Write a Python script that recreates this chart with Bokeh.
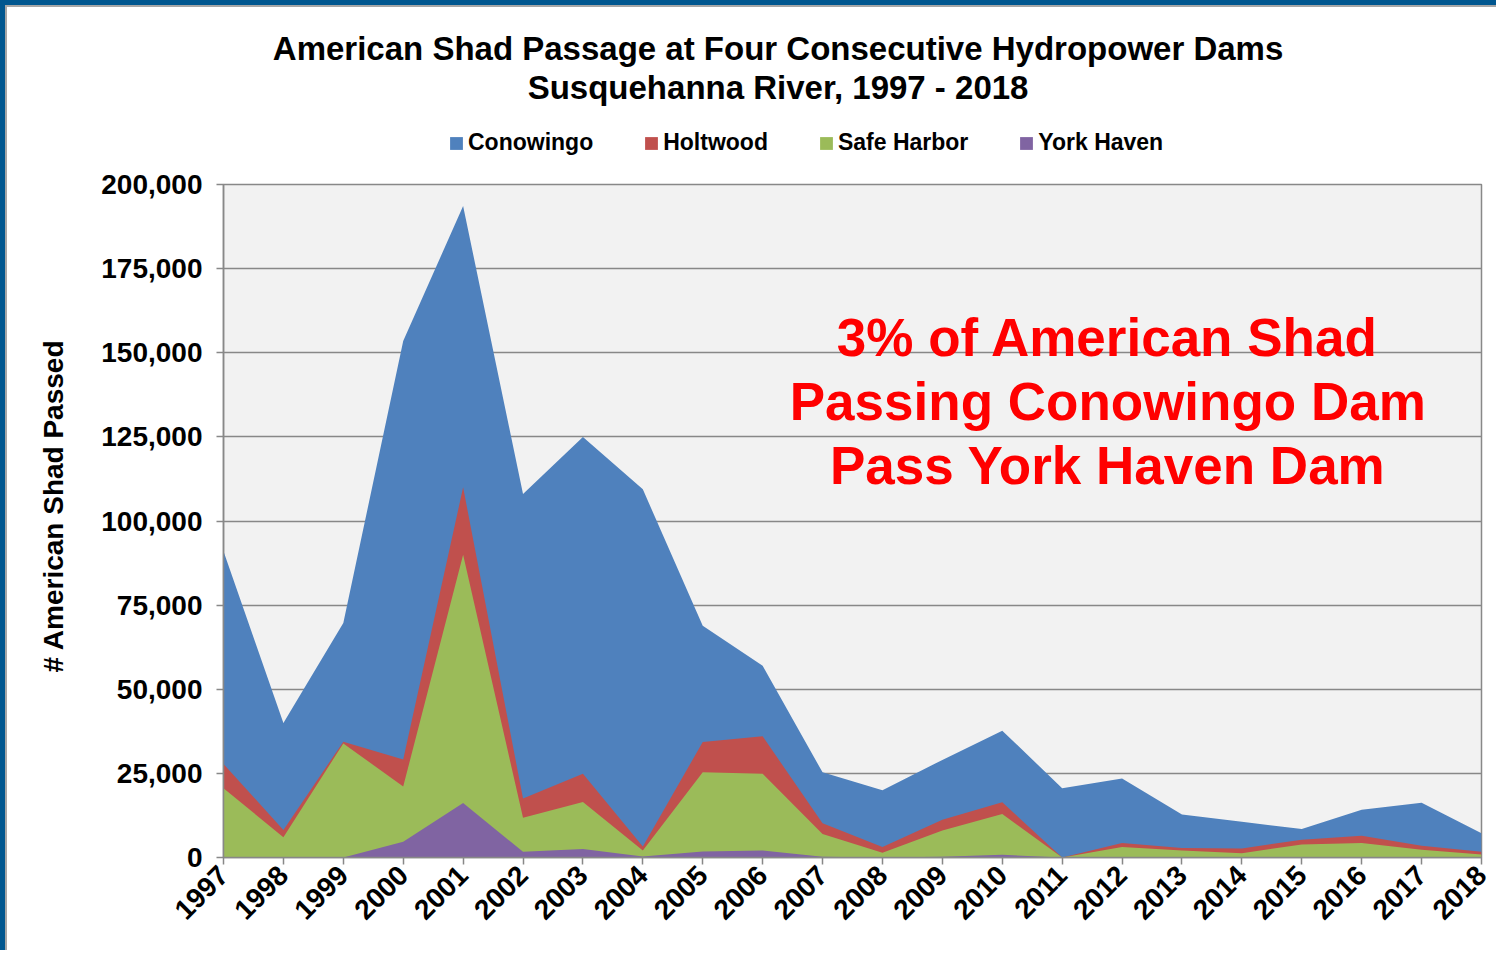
import math
from bokeh.plotting import figure
from bokeh.layouts import column
from bokeh.models import (Range1d, FixedTicker, NumeralTickFormatter, Legend,
                          LegendItem, Label, Title)
from bokeh.embed import file_html
from bokeh.resources import INLINE

# ---------------- data ----------------
years = list(range(1997, 2019))
conowingo = [91000, 40000, 69700, 153500, 193600, 108000, 125000, 109400, 68900, 57000, 25300,
             20000, 29000, 37700, 20600, 23500, 12800, 10600, 8500, 14200, 16300, 7200]
holtwood = [27800, 8200, 34400, 29100, 110000, 17500, 24900, 3300, 34300, 36000, 10200,
            3100, 11200, 16400, 0, 4300, 2800, 2700, 5300, 6500, 3500, 1700]
safe_harbor = [20600, 6000, 33900, 21100, 90000, 11800, 16500, 2100, 25300, 24900, 7000,
               1400, 8000, 12900, 0, 3100, 2100, 1300, 3900, 4300, 2300, 900]
york_haven = [0, 0, 0, 4700, 16200, 1700, 2500, 300, 1800, 2100, 200,
              0, 200, 800, 0, 100, 100, 100, 100, 100, 100, 100]
series_names = ["Conowingo", "Holtwood", "Safe Harbor", "York Haven"]
y_ticks = list(range(0, 200001, 25000))
title_lines = ["American Shad Passage at Four Consecutive Hydropower Dams",
               "Susquehanna River, 1997 - 2018"]
note_lines = ["3% of American Shad", "Passing Conowingo Dam", "Pass York Haven Dam"]
y_title = "# American Shad Passed"

# ---------------- styling / layout ----------------
colors = ["#4F81BD", "#C0504D", "#9BBB59", "#8064A2"]
FONT = "Liberation Sans"
GRAY = "#888888"
BLUE_B, GRAY_B = 5, 2           # page border widths (CSS)
BORDER = BLUE_B + GRAY_B
W = 1496 - BORDER               # width of each figure
HEAD_H = 160                    # header figure height
MAIN_H = 950 - BORDER - HEAD_H  # main figure height
# frame edges in reference-page px
FL, FR, FT, FB = 222, 1481, 184, 857
HEAD_TOP = BORDER
MAIN_TOP = BORDER + HEAD_H

x0, x1 = years[0], years[-1]
y0, y1 = 0, 200000


def dx(px):  # page px -> data x (main)
    return x0 + (px - FL) / (FR - FL) * (x1 - x0)


def dy(py):  # page px -> data y (main)
    return y0 + (FB - py) / (FB - FT) * (y1 - y0)


# ---------------- header (titles + legend) ----------------
# its frame is aligned by the column with the main frame (FL..FR), so ranges are page px
head = figure(width=W, height=HEAD_H, output_backend="svg", toolbar_location=None, title=None,
              x_range=Range1d(FL, FR), y_range=Range1d(HEAD_TOP + HEAD_H, HEAD_TOP),
              x_axis_location=None, y_axis_location=None,
              min_border_left=0, min_border_right=0, min_border_top=0, min_border_bottom=0)
head.grid.visible = False
head.outline_line_color = None
head.background_fill_color = "white"
head.border_fill_color = "white"

for txt, py in zip(title_lines, [48, 87]):
    head.add_layout(Label(x=777, y=py, text=txt, text_align="center", text_baseline="middle",
                          text_font=FONT, text_font_style="bold", text_font_size="33px",
                          text_color="black"))

# legend swatches: zero-height areas placed outside the header's visible range
legend_renderers = [head.varea(x=[FL - 100, FL - 90], y1=[HEAD_TOP, HEAD_TOP],
                               y2=[HEAD_TOP, HEAD_TOP], fill_color=c) for c in colors]
legend = Legend(items=[LegendItem(label=n, renderers=[r]) for n, r in zip(series_names, legend_renderers)],
                location=(447 - FL, HEAD_TOP + HEAD_H - 156), orientation="horizontal",
                glyph_width=16, glyph_height=16, label_standoff=4, spacing=50,
                padding=0, margin=0, background_fill_alpha=0, border_line_color=None,
                label_text_font=FONT, label_text_font_style="bold",
                label_text_font_size="23px", label_text_color="black")
head.add_layout(legend)

# ---------------- main chart ----------------
p = figure(width=W, height=MAIN_H, output_backend="svg", toolbar_location=None, title=None,
           x_range=Range1d(x0, x1), y_range=Range1d(y0, y1),
           min_border_left=FL - BORDER, min_border_right=BORDER + W - FR,
           min_border_top=FT - MAIN_TOP, min_border_bottom=MAIN_TOP + MAIN_H - FB)
p.background_fill_color = "#F2F2F2"
p.border_fill_color = "white"
p.outline_line_color = GRAY
p.outline_line_width = 1.5

for vals, c in zip([conowingo, holtwood, safe_harbor, york_haven], colors):
    p.varea(x=years, y1=[0] * len(years), y2=vals, fill_color=c, fill_alpha=1.0)

p.xgrid.visible = False
p.ygrid.ticker = FixedTicker(ticks=y_ticks)
p.ygrid.grid_line_color = GRAY
p.ygrid.grid_line_width = 1.5

p.xaxis.ticker = FixedTicker(ticks=years)
p.xaxis.major_label_orientation = math.pi / 4
p.yaxis.ticker = FixedTicker(ticks=y_ticks)
p.yaxis.formatter = NumeralTickFormatter(format="0,0")
for ax in (p.xaxis[0], p.yaxis[0]):
    ax.axis_line_color = GRAY
    ax.axis_line_width = 1.5
    ax.major_tick_line_color = GRAY
    ax.major_tick_line_width = 1.5
    ax.major_tick_in = 0
    ax.major_tick_out = 7
    ax.minor_tick_line_color = None
    ax.major_label_text_font = FONT
    ax.major_label_text_font_style = "bold"
    ax.major_label_text_font_size = "28px"
    ax.major_label_text_color = "black"
p.xaxis.major_label_standoff = 6
p.yaxis.major_label_standoff = 14

# y-axis title as a side title, anchored from the frame bottom like the reference
p.add_layout(Title(text=y_title, align="left", offset=FB - 672, standoff=58,
                   vertical_align="middle", text_font=FONT, text_font_style="bold",
                   text_font_size="28px", text_color="black"), "left")

for txt, py in zip(note_lines, [337, 401, 465]):
    p.add_layout(Label(x=dx(1107), y=dy(py), text=txt, text_align="center",
                       text_baseline="middle", text_font=FONT, text_font_style="bold",
                       text_font_size="53px", text_color="#FF0000"))

inner = column(head, p, spacing=0,
               styles={"border-top": f"{GRAY_B}px solid #A6A6A6",
                       "border-left": f"{GRAY_B}px solid #A6A6A6"})
page = column(inner, spacing=0,
              styles={"border-top": f"{BLUE_B}px solid #00568F",
                      "border-left": f"{BLUE_B}px solid #00568F"})

open("out.html", "w").write(file_html(page, INLINE))
